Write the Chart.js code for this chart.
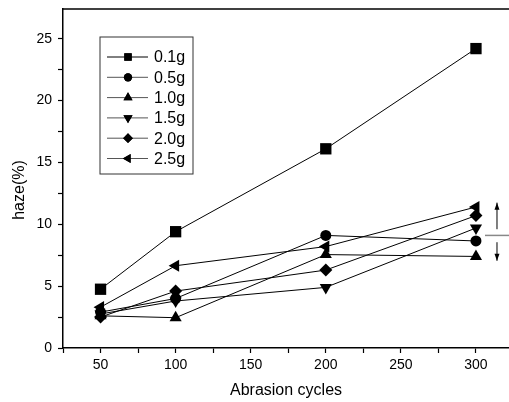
<!DOCTYPE html>
<html>
<head>
<meta charset="utf-8">
<script src="https://cdn.jsdelivr.net/npm/chart.js@4/dist/chart.umd.min.js"></script>
<style>
    html, body { margin: 0; padding: 0; background: #fff; }
    .chart-wrap { width: 509px; height: 402px; }
</style>
</head>
<body>
<div class="chart-wrap"><canvas id="chart"></canvas></div>
<script>
const cycles = [50, 100, 200, 300];
const seriesLabels = ["0.1g", "0.5g", "1.0g", "1.5g", "2.0g", "2.5g"];
const haze01 = [4.75, 9.4, 16.1, 24.2];
const haze05 = [2.9, 4.0, 9.1, 8.65];
const haze10 = [2.6, 2.45, 7.55, 7.4];
const haze15 = [2.75, 3.8, 4.9, 9.7];
const haze20 = [2.5, 4.6, 6.3, 10.7];
const haze25 = [3.3, 6.65, 8.2, 11.4];
const xTicks = [25, 50, 75, 100, 125, 150, 175, 200, 225, 250, 275, 300];
const yTicks = [0, 2.5, 5, 7.5, 10, 12.5, 15, 17.5, 20, 22.5, 25];

const FONT = "'Liberation Sans', Arial, sans-serif";

// 마커 모양 (pointStyle, 회전, 반지름)
const markers = [
    { style: "rect", rotation: 0, radius: 8 },
    { style: "circle", rotation: 0, radius: 5.5 },
    { style: "triangle", rotation: 0, radius: 7 },
    { style: "triangle", rotation: 180, radius: 7 },
    { style: "rectRot", rotation: 0, radius: 6.5 },
    { style: "triangle", rotation: 270, radius: 7 },
];
const allData = [haze01, haze05, haze10, haze15, haze20, haze25];

const datasets = seriesLabels.map((label, i) => ({
    label: label,
    data: cycles.map((c, j) => ({ x: c, y: allData[i][j] })),
    borderColor: "#000",
    backgroundColor: "#000",
    borderWidth: 1,
    pointStyle: markers[i].style,
    pointRotation: markers[i].rotation,
    pointRadius: markers[i].radius,
    pointBorderWidth: 0,
    tension: 0,
}));

// scale 여백 제거 (plot 영역을 캔버스 오른쪽 끝까지)
function noPadding(scale) {
    scale.paddingLeft = 0;
    scale.paddingRight = 0;
    scale.paddingTop = 0;
    scale.paddingBottom = 0;
}

// 범례 박스, 윗 테두리, 화살표 표시
const decorPlugin = {
    id: "decor",
    afterDraw(chart) {
        const ctx = chart.ctx;
        const area = chart.chartArea;
        const xs = chart.scales.x, ys = chart.scales.y;
        ctx.save();

        // top frame line
        ctx.strokeStyle = "#000";
        ctx.lineWidth = 1.5;
        ctx.beginPath();
        ctx.moveTo(area.left, area.top);
        ctx.lineTo(area.right, area.top);
        ctx.stroke();

        // y title
        ctx.fillStyle = "#000";
        ctx.font = "16px " + FONT;
        ctx.textAlign = "center";
        ctx.textBaseline = "middle";
        ctx.save();
        ctx.translate(20, 190);
        ctx.rotate(-Math.PI / 2);
        ctx.fillText("haze(%)", 0, 0);
        ctx.restore();

        // legend
        const bx = area.left + 37, by = area.top + 28;
        ctx.lineWidth = 1;
        ctx.strokeStyle = "#333";
        ctx.strokeRect(bx, by, 93, 137);
        ctx.textAlign = "left";
        seriesLabels.forEach((label, i) => {
            const y = by + 20 + i * 20.3;
            ctx.strokeStyle = i === 0 ? "#000" : "#555";
            ctx.lineWidth = 1;
            ctx.beginPath();
            ctx.moveTo(bx + 7, y);
            ctx.lineTo(bx + 48, y);
            ctx.stroke();
            ctx.fillStyle = "#000";
            Chart.helpers.drawPoint(ctx, {
                pointStyle: markers[i].style,
                rotation: markers[i].rotation,
                radius: (i === 0 ? 7 : markers[i].radius) * 0.75,
                borderWidth: 0,
            }, bx + 28, y);
            ctx.fill();
            ctx.fillText(label, bx + 54, y + 1);
        });

        // arrow annotation on the right
        const ax = xs.getPixelForValue(314);
        const arrow = (y1, y2) => {
            const p1 = ys.getPixelForValue(y1), p2 = ys.getPixelForValue(y2);
            const dir = Math.sign(p2 - p1);
            ctx.strokeStyle = "#000";
            ctx.fillStyle = "#000";
            ctx.lineWidth = 1;
            ctx.beginPath();
            ctx.moveTo(ax, p1);
            ctx.lineTo(ax, p2);
            ctx.stroke();
            ctx.beginPath();
            ctx.moveTo(ax, p2);
            ctx.lineTo(ax - 2.5, p2 - dir * 7);
            ctx.lineTo(ax + 2.5, p2 - dir * 7);
            ctx.closePath();
            ctx.fill();
        };
        arrow(9.6, 11.75);
        arrow(8.55, 7.05);
        ctx.strokeStyle = "#888";
        ctx.lineWidth = 1.5;
        ctx.beginPath();
        ctx.moveTo(xs.getPixelForValue(306), ys.getPixelForValue(9.1));
        ctx.lineTo(xs.getPixelForValue(323), ys.getPixelForValue(9.1));
        ctx.stroke();

        ctx.restore();
    }
};

new Chart(document.getElementById("chart"), {
    type: "line",
    data: { datasets: datasets },
    options: {
        animation: false,
        responsive: true,
        maintainAspectRatio: false,
        layout: { autoPadding: false, padding: { top: 9, right: 0, left: 0, bottom: 0 } },
        plugins: {
            legend: { display: false },
            tooltip: { enabled: false },
        },
        scales: {
            x: {
                type: "linear",
                min: 25,
                max: 322,
                afterBuildTicks: (scale) => { scale.ticks = xTicks.map(v => ({ value: v })); },
                afterFit: (scale) => { scale.height = 54; noPadding(scale); },
                ticks: {
                    color: "#000",
                    font: { family: FONT, size: 14 },
                    padding: 4,
                    maxRotation: 0,
                    autoSkip: false,
                    callback: (v) => (v % 50 === 0 ? String(v) : ""),
                },
                grid: { drawOnChartArea: false, drawTicks: true, tickLength: 5, color: "#000", tickWidth: 1.2 },
                border: { color: "#000", width: 1.5 },
                title: {
                    display: true,
                    text: "Abrasion cycles",
                    color: "#000",
                    font: { family: FONT, size: 16 },
                    padding: { top: 0, bottom: 2 },
                },
            },
            y: {
                type: "linear",
                min: 0,
                max: 27.4,
                afterBuildTicks: (scale) => { scale.ticks = yTicks.map(v => ({ value: v })); },
                afterFit: (scale) => { scale.width = 63; noPadding(scale); },
                ticks: {
                    color: "#000",
                    font: { family: FONT, size: 14 },
                    padding: 6,
                    autoSkip: false,
                    callback: (v) => (v % 5 === 0 ? String(v) : ""),
                },
                grid: { drawOnChartArea: false, drawTicks: true, tickLength: 5, color: "#000", tickWidth: 1.2 },
                border: { color: "#000", width: 1.5 },
            },
        },
    },
    plugins: [decorPlugin],
});
</script>
</body>
</html>
